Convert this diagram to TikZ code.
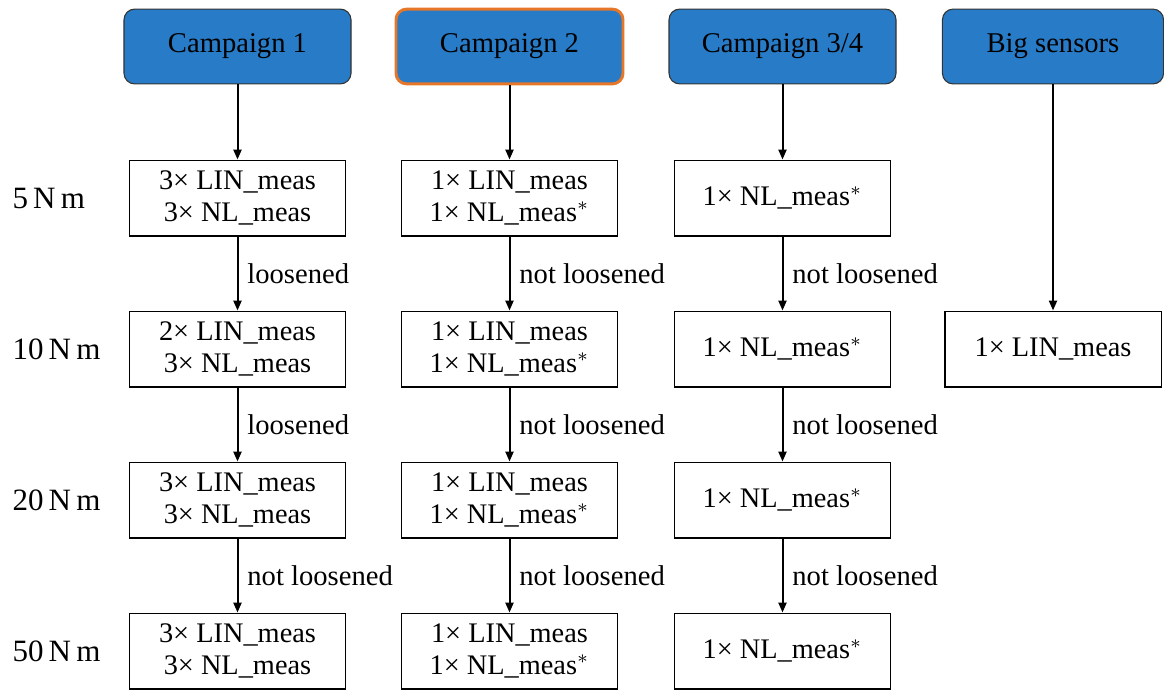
\documentclass[tikz,border=0pt]{standalone}
\usepackage{fontspec}
\setmainfont{Liberation Serif}
\usepackage{tikz}
\usetikzlibrary{arrows.meta,positioning}
\definecolor{cpblue}{RGB}{40,123,198}
\definecolor{cporange}{RGB}{230,118,40}
\newcommand{\LINm}[1]{#1\texttimes{} LIN\_meas}
\newcommand{\NLm}[1]{#1\texttimes{} NL\_meas}
\newcommand{\NLs}[1]{#1\texttimes{} NL\_meas$^{*}$}

\begin{document}
\begin{tikzpicture}[x=0.374pt,y=-0.374pt,font=\fontsize{10.7}{12}\selectfont,
  campbox/.style={draw=black!80,fill=cpblue,rounded corners=4pt,minimum width=84.9pt,minimum height=28pt},
  measbox/.style={draw,line width=0.4pt,minimum width=80.8pt,minimum height=28.4pt,align=center,font=\fontsize{10.6}{12}\selectfont},
  torque/.style={anchor=west,inner sep=0pt,font=\fontsize{11.6}{13}\selectfont},
  flow/.style={-{Triangle[length=3.7pt,width=3pt]},line width=0.75pt}]
  \useasboundingbox (0,0) rectangle (1164,689);
  % campaigns on top
  \node[campbox] (c1) at (237.5,46.5) {Campaign 1};
  \node[campbox,draw=cporange,line width=1.1pt] (c2) at (509.5,46.5) {Campaign 2};
  \node[campbox] (c3) at (782.5,46.5) {Campaign 3/4};
  \node[campbox,minimum width=82.7pt] (c4) at (1053,46.5) {Big sensors};
  % torque levels
  \node[torque] (t5)  at (12,198) {5\,N\,m};
  \node[torque] (t10) at (12,349) {10\,N\,m};
  \node[torque] (t20) at (12,500) {20\,N\,m};
  \node[torque] (t50) at (12,651) {50\,N\,m};
  % campaign 1
  \node[measbox] (c1t5)  at (237.5,198) {\LINm{3}\\\NLm{3}};
  \node[measbox] (c1t10) at (237.5,349) {\LINm{2}\\\NLm{3}};
  \node[measbox] (c1t20) at (237.5,500) {\LINm{3}\\\NLm{3}};
  \node[measbox] (c1t50) at (237.5,651) {\LINm{3}\\\NLm{3}};
  % campaign 2
  \node[measbox] (c2t5)  at (509.5,198) {\LINm{1}\\\NLs{1}};
  \node[measbox] (c2t10) at (509.5,349) {\LINm{1}\\\NLs{1}};
  \node[measbox] (c2t20) at (509.5,500) {\LINm{1}\\\NLs{1}};
  \node[measbox] (c2t50) at (509.5,651) {\LINm{1}\\\NLs{1}};
  % campaign 3/4
  \node[measbox] (c3t5)  at (782.5,198) {\NLs{1}};
  \node[measbox] (c3t10) at (782.5,349) {\NLs{1}};
  \node[measbox] (c3t20) at (782.5,500) {\NLs{1}};
  \node[measbox] (c3t50) at (782.5,651) {\NLs{1}};
  % big sensors
  \node[measbox] (c4t10) at (1053,349) {\LINm{1}};
  % arrows
  \draw[flow] (c1) -- (c1t5);
  \draw[flow] (c1t5) -- node[right]{loosened} (c1t10);
  \draw[flow] (c1t10) -- node[right]{loosened} (c1t20);
  \draw[flow] (c1t20) -- node[right]{not loosened} (c1t50);
  \draw[flow] (c2) -- (c2t5);
  \draw[flow] (c2t5) -- node[right]{not loosened} (c2t10);
  \draw[flow] (c2t10) -- node[right]{not loosened} (c2t20);
  \draw[flow] (c2t20) -- node[right]{not loosened} (c2t50);
  \draw[flow] (c3) -- (c3t5);
  \draw[flow] (c3t5) -- node[right]{not loosened} (c3t10);
  \draw[flow] (c3t10) -- node[right]{not loosened} (c3t20);
  \draw[flow] (c3t20) -- node[right]{not loosened} (c3t50);
  \draw[flow] (c4) -- (c4t10);
\end{tikzpicture}
\end{document}
